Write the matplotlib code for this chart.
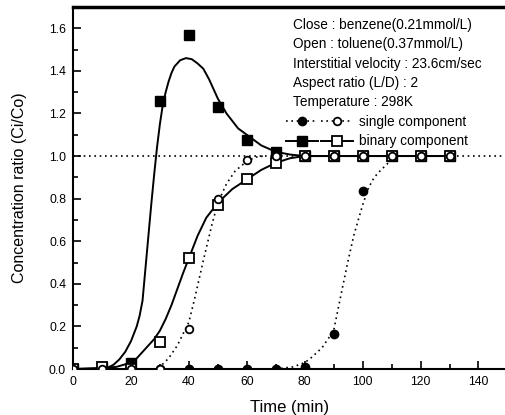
import numpy as np
import matplotlib.pyplot as plt
from matplotlib.ticker import MultipleLocator
from matplotlib.legend_handler import HandlerTuple

plt.rcParams['font.family'] = ['Liberation Sans', 'DejaVu Sans']

###############################################################################
# Data
###############################################################################
time = [0, 10, 20, 30, 40, 50, 60, 70, 80, 90, 100, 110, 120, 130]

# single component runs
benzene_single = [0, 0, 0, 0, 0, 0, 0, 0, 0.01, 0.165, 0.834, 1.0, 1.0, 1.0]
toluene_single = [0, 0, 0, 0, 0.19, 0.80, 0.98, 1.0, 1.0, 1.0, 1.0, 1.0, 1.0, 1.0]

# binary component run
benzene_binary = [0, 0.01, 0.03, 1.26, 1.57, 1.23, 1.075, 1.02, 1.0, 1.0, 1.0, 1.0, 1.0, 1.0]
toluene_binary = [0, 0.008, 0.0, 0.128, 0.52, 0.77, 0.89, 0.968, 1.0, 1.0, 1.0, 1.0, 1.0, 1.0]

# fitted curves
bb_fit_t = [0, 10, 12, 14, 16, 18, 20, 22, 23, 24, 25, 26, 27, 28, 29, 30, 31,
            32, 33, 34, 35, 37, 39, 41, 43, 45, 47, 50, 53, 57, 60, 65, 70, 75,
            80, 130]
bb_fit_y = [0, 0.002, 0.006, 0.02, 0.045, 0.08, 0.13, 0.2, 0.25, 0.32, 0.47,
            0.62, 0.77, 0.91, 1.04, 1.15, 1.24, 1.3, 1.35, 1.39, 1.42, 1.45,
            1.46, 1.455, 1.435, 1.41, 1.36, 1.27, 1.2, 1.13, 1.1, 1.05, 1.02,
            1.007, 1.0, 1.0]

tb_fit_t = [0, 10, 15, 20, 22, 24, 26, 28, 30, 32, 34, 36, 38, 40, 43, 46, 50,
            55, 60, 65, 70, 75, 80, 130]
tb_fit_y = [0, 0.005, 0.01, 0.03, 0.05, 0.08, 0.11, 0.14, 0.18, 0.235, 0.3, 0.375,
            0.45, 0.52, 0.625, 0.71, 0.78, 0.845, 0.89, 0.935, 0.968, 0.99, 1.0, 1.0]

ts_fit_t = [0, 28, 30, 33, 36, 40, 42, 45, 48, 50, 53, 56, 60, 63, 66]
ts_fit_y = [0, 0, 0.01, 0.05, 0.11, 0.22, 0.33, 0.51, 0.68, 0.78, 0.87, 0.93,
            0.975, 0.995, 1.0]

bs_fit_t = [0, 70, 76, 80, 82, 86, 90, 93, 95, 97, 100, 102, 104, 106, 109, 112]
bs_fit_y = [0, 0, 0.01, 0.03, 0.05, 0.1, 0.18, 0.38, 0.51, 0.63, 0.77, 0.85,
            0.9, 0.93, 0.97, 1.0]

info_lines = ["Close : benzene(0.21mmol/L)",
              "Open : toluene(0.37mmol/L)",
              "Interstitial velocity : 23.6cm/sec",
              "Aspect ratio (L/D) : 2",
              "Temperature : 298K"]

###############################################################################
# Plot
###############################################################################
fig = plt.figure(figsize=(5.06, 4.15), dpi=100)
ax = fig.add_axes([73/506, 46/415, 433/506, 362/415])

dot = dict(lw=1.2, dashes=(1, 2.2))
sol = dict(lw=1.4)

ax.axhline(1.0, color='black', **dot, zorder=1)
ax.plot(bs_fit_t, bs_fit_y, color='black', **dot, zorder=2)
ax.plot(ts_fit_t, ts_fit_y, color='black', **dot, zorder=2)
ax.plot(bb_fit_t, bb_fit_y, color='black', **sol, zorder=2)
ax.plot(tb_fit_t, tb_fit_y, color='black', **sol, zorder=2)

ax.plot(time, benzene_single, 'o', color='black', ms=6, zorder=3)
ax.plot(time, benzene_binary, 's', color='black', ms=6.8, zorder=3)
ax.plot(time, toluene_binary, 's', mfc='white', mec='black', mew=1.3, ms=6.5, zorder=4)
ax.plot(time, toluene_single, 'o', mfc='white', mec='black', mew=1.3, ms=5.5, zorder=5)

# legend handles
h_bs, = ax.plot([], [], marker='o', color='black', ms=6, **dot)
h_ts, = ax.plot([], [], marker='o', color='black', mfc='white', mew=1.3, ms=5.5, **dot)
h_bb, = ax.plot([], [], marker='s', color='black', ms=6.5, **sol)
h_tb, = ax.plot([], [], marker='s', color='black', mfc='white', mew=1.3, ms=6.5, **sol)

fs = 9.8
for i, line in enumerate(info_lines):
    ax.text(0.508, (369 - 25 - i*19.3)/362, line, transform=ax.transAxes,
            fontsize=fs, va='center', ha='left')

ax.legend([(h_bs, h_ts), (h_bb, h_tb)], ["single component", "binary component"],
          handler_map={tuple: HandlerTuple(ndivide=None, pad=0.2)},
          loc='upper left', bbox_to_anchor=((286-73)/433, (369-115)/362),
          frameon=False, fontsize=fs, handlelength=4.9, handletextpad=0.5,
          labelspacing=0.4, borderpad=0, borderaxespad=0, numpoints=1)

ax.set_xlim(0, 149.5)
ax.set_ylim(0, 1.7)
ax.xaxis.set_major_locator(MultipleLocator(20))
ax.xaxis.set_minor_locator(MultipleLocator(10))
ax.yaxis.set_major_locator(MultipleLocator(0.2))
ax.yaxis.set_minor_locator(MultipleLocator(0.1))
ax.yaxis.set_major_formatter(plt.FormatStrFormatter('%.1f'))
ax.tick_params(which='both', direction='in', labelsize=8.8, width=1.2)
ax.tick_params(which='major', length=6, pad=5)
ax.tick_params(which='minor', length=3.5)

ax.spines['right'].set_visible(False)
ax.spines['top'].set_linewidth(2.5)
ax.spines['left'].set_linewidth(1.5)
ax.spines['bottom'].set_linewidth(1.5)

ax.set_xlabel("Time (min)", fontsize=12, labelpad=9)
ax.set_ylabel("Concentration ratio (Ci/Co)", fontsize=11.5, labelpad=16)

plt.savefig("out.png", dpi=100)
